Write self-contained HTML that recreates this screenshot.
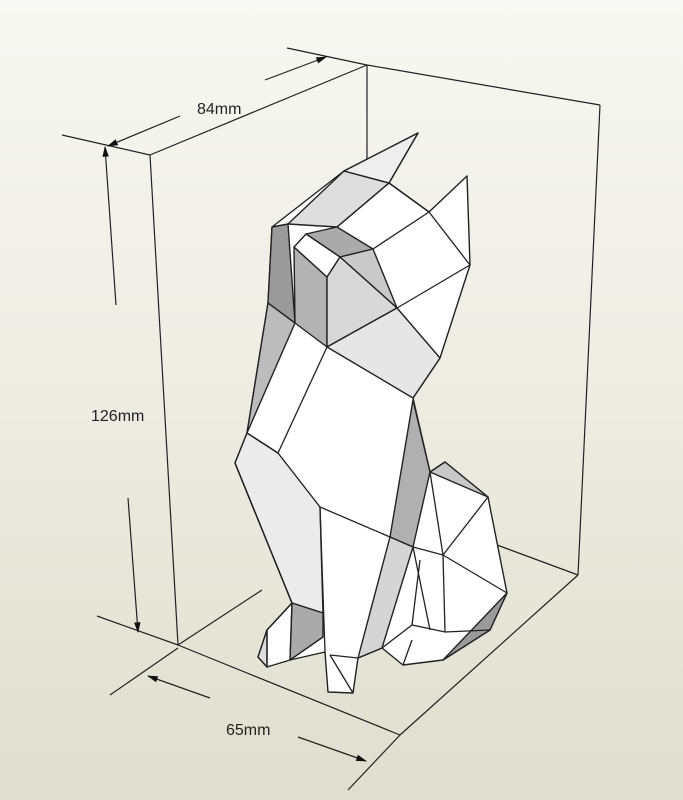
<!DOCTYPE html>
<html><head><meta charset="utf-8"><style>
html,body{margin:0;padding:0;width:683px;height:800px;overflow:hidden}
body{background:linear-gradient(#f8f8f4,#ecece2 50%,#dfdfcf)}
svg{position:absolute;left:0;top:0}
text{font-family:"Liberation Sans",sans-serif;font-size:16px;fill:#222}
</style></head><body>
<svg width="683" height="800" viewBox="0 0 683 800">
<defs><marker id="a" viewBox="0 0 10 10" refX="9" refY="5" markerWidth="9" markerHeight="9" orient="auto-start-reverse"><path d="M0,2 L10,5 L0,8 z" fill="#111"/></marker></defs>
<g stroke="#222" stroke-width="1.2" fill="none">
<!-- box -->
<line x1="62" y1="135" x2="150" y2="155"/>
<line x1="287" y1="48" x2="367" y2="65"/>
<line x1="150" y1="155" x2="367" y2="65"/>
<line x1="367" y1="65" x2="600" y2="105"/>
<line x1="367" y1="65" x2="367" y2="200"/>
<line x1="600" y1="105" x2="578" y2="575"/>
<line x1="150" y1="155" x2="178" y2="645"/>
<line x1="178" y1="645" x2="262" y2="590"/>
<line x1="178" y1="645" x2="400" y2="735"/>
<line x1="400" y1="735" x2="578" y2="575"/>
<line x1="497" y1="545" x2="578" y2="575"/>
<line x1="97" y1="616" x2="178" y2="645"/>
<line x1="110" y1="695" x2="178" y2="648"/>
<line x1="400" y1="735" x2="348" y2="790"/>
<!-- dimensions -->
<line x1="108" y1="146" x2="180" y2="116" marker-start="url(#a)"/>
<line x1="265" y1="80" x2="326" y2="57" marker-end="url(#a)"/>
<line x1="105" y1="147" x2="116" y2="305" marker-start="url(#a)"/>
<line x1="128" y1="498" x2="138" y2="632" marker-end="url(#a)"/>
<line x1="148" y1="676" x2="210" y2="698" marker-start="url(#a)"/>
<line x1="298" y1="737" x2="366" y2="761" marker-end="url(#a)"/>
</g>
<text x="197" y="114">84mm</text>
<text x="91" y="421">126mm</text>
<text x="226" y="735">65mm</text>
<!-- cat -->
<g stroke="#222" stroke-width="1.4" stroke-linejoin="round">
<polygon fill="#fff" points="272,227 344,171 418,133 389,183 429,212 467,176 470,265 440,358 413,398 430,472 445,462 488,497 507,593 490,630 443,660 403,665 382,648 358,658 353,693 328,692 325,652 290,660 267,667 258,657 267,630 292,603 235,463 247,433 268,303"/>
<polygon fill="#9a9a9a" points="272,227 288,224 295,323 268,303"/>
<polygon fill="#b3b3b3" points="294,247 327,277 327,347 295,323"/>
<polygon fill="#dedede" points="288,224 344,171 389,183 337,227"/>
<polygon fill="#eee" points="344,171 418,133 389,183"/>
<polygon fill="#aaa" points="306,234 337,227 373,249 340,257"/>
<polygon fill="#c9c9c9" points="340,257 373,249 397,308"/>
<polygon fill="#fff" points="294,247 306,234 340,257 327,277"/>
<polygon fill="#d8d8d8" points="327,277 340,257 397,308 327,347"/>
<polygon fill="#e6e6e6" points="327,347 397,308 440,358 413,398"/>
<polygon fill="#bcbcbc" points="268,303 295,323 247,433"/>
<polygon fill="#ebebeb" points="235,463 247,433 278,453 320,507 323,613 292,603"/>
<polygon fill="#b0b0b0" points="413,400 430,472 413,547 390,537"/>
<polygon fill="#d5d5d5" points="390,537 413,547 382,648 358,658"/>
<polygon fill="#c8c8c8" points="430,472 445,462 488,497"/>
<polygon fill="#9a9a9a" points="507,593 443,660 490,630"/>
<polygon fill="#aaa" points="292,603 323,613 323,637 290,660"/>
<polygon fill="#ddd" points="267,630 258,657 267,667"/>
</g>
<g stroke="#222" stroke-width="1.3" fill="none">
<polyline points="337,227 389,183 429,212 470,265"/>
<line x1="373" y1="249" x2="429" y2="212"/>
<line x1="397" y1="308" x2="470" y2="265"/>
<polyline points="247,433 278,453 327,347"/>
<polyline points="320,507 390,537"/>
<line x1="320" y1="507" x2="325" y2="652"/>
<line x1="413" y1="547" x2="443" y2="555"/>
<line x1="430" y1="472" x2="443" y2="555"/>
<line x1="488" y1="497" x2="443" y2="555"/>
<line x1="443" y1="555" x2="507" y2="593"/>
<line x1="413" y1="547" x2="430" y2="630"/>
<line x1="420" y1="560" x2="412" y2="625"/>
<line x1="443" y1="555" x2="445" y2="632"/>
<polyline points="382,648 412,625 445,632 490,630"/>
<line x1="403" y1="665" x2="412" y2="640"/>
<line x1="330" y1="655" x2="353" y2="693"/>
<line x1="330" y1="655" x2="358" y2="658"/>
<line x1="267" y1="630" x2="292" y2="603"/>
<line x1="267" y1="667" x2="267" y2="630"/>
<line x1="290" y1="660" x2="292" y2="603"/>
<line x1="235" y1="463" x2="292" y2="603"/>
</g>
</svg>
</body></html>
